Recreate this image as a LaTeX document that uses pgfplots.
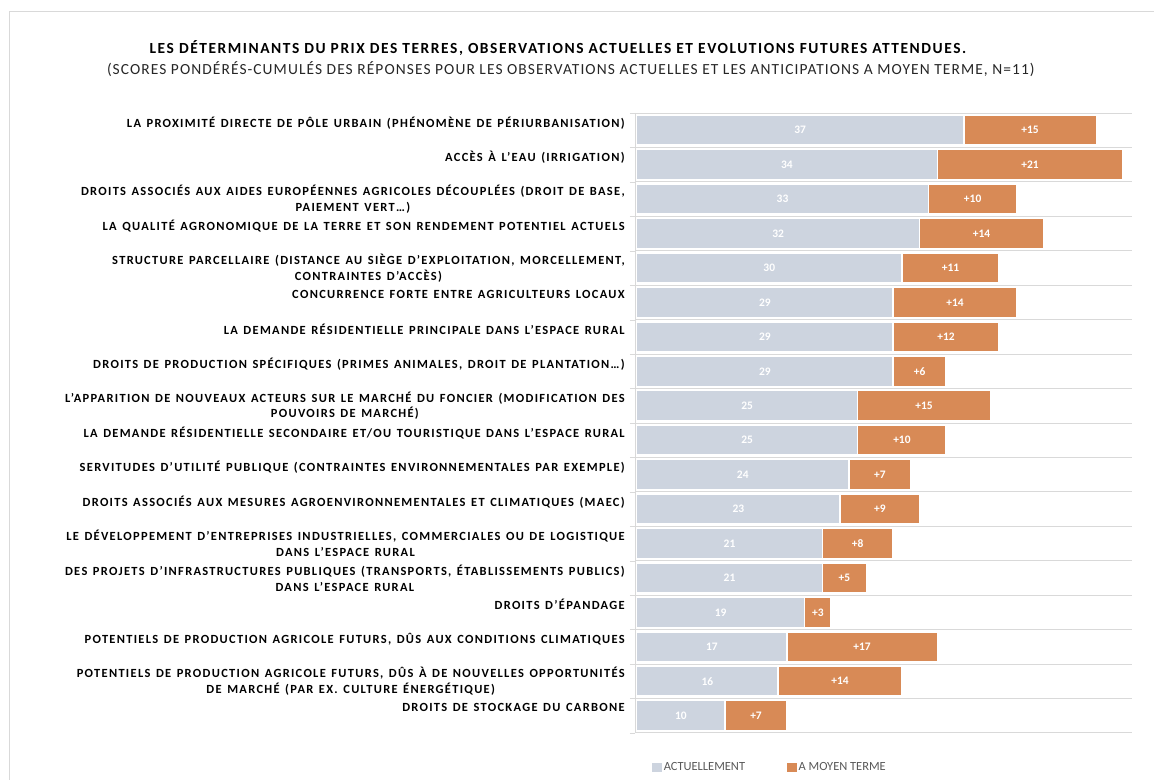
\documentclass[border=0pt]{standalone}
\usepackage{fontspec}
\setmainfont{Carlito}
\newfontfamily\lblfont[LetterSpace=10.5, WordSpace=1.35]{Carlito}
\newfontfamily\ttlfont[LetterSpace=10]{Carlito}
\newfontfamily\subfont[LetterSpace=7]{Carlito}
\usepackage{pgfplots}
\pgfplotsset{compat=1.18}
\usepackage{pgfplotstable}

\definecolor{actu}{HTML}{CDD4DF}
\definecolor{moyen}{HTML}{D88A56}
\definecolor{gridc}{HTML}{D9D9D9}
\definecolor{legtxt}{HTML}{595959}

% scores ponderes-cumules : actuellement / a moyen terme
\pgfplotstableread{
id now fut
0  37 15
1  34 21
2  33 10
3  32 14
4  30 11
5  29 14
6  29 12
7  29 6
8  25 15
9  25 10
10 24 7
11 23 9
12 21 8
13 21 5
14 19 3
15 17 17
16 16 14
17 10 7
}\scores

\begin{document}
\begin{tikzpicture}
\path (0bp,0bp) rectangle (1154bp,-780bp);
\draw[gridc] (9bp,-780bp) -- (9bp,-11bp) -- (1154bp,-11bp);
\node[font=\ttlfont\bfseries\fontsize{15.5}{18}\selectfont] at (558bp,-48bp)
  {LES DÉTERMINANTS DU PRIX DES TERRES, OBSERVATIONS ACTUELLES ET EVOLUTIONS FUTURES ATTENDUES.};
\node[font=\subfont\fontsize{15.5}{18}\selectfont, text=black!85] at (571bp,-69bp)
  {(SCORES PONDÉRÉS-CUMULÉS DES RÉPONSES POUR LES OBSERVATIONS ACTUELLES ET LES ANTICIPATIONS A MOYEN TERME, N=11)};
\begin{axis}[
    at={(635bp,-733bp)}, anchor=south west,
    scale only axis, width=497bp, height=620bp,
    xbar stacked, bar width=30bp,
    xmin=-0.2, xmax=56, ymin=-0.5, ymax=17.5,
    y dir=reverse,
    axis x line=none,
    axis y line=left,
    y axis line style={gridc, -},
    xtick=\empty,
    ytick={0,1,2,3,4,5,6,7,8,9,10,11,12,13,14,15,16,17},
    minor ytick={-0.5,0.5,...,17.5},
    yminorgrids=true,
    minor grid style={gridc, line width=0.8bp},
    major tick length=0pt,
    minor tick length=5bp,
    tick align=outside,
    ytick pos=left,
    minor tick style={gridc},
    yticklabel shift=10bp,
    yticklabel style={font=\lblfont\bfseries\fontsize{12.5}{16}\selectfont,
        align=center, inner sep=0pt, text=black},
    yticklabels={
      {LA PROXIMITÉ DIRECTE DE PÔLE URBAIN (PHÉNOMÈNE DE PÉRIURBANISATION)\\\mbox{}},
      {ACCÈS À L’EAU (IRRIGATION)\\\mbox{}},
      {DROITS ASSOCIÉS AUX AIDES EUROPÉENNES AGRICOLES DÉCOUPLÉES (DROIT DE BASE,\\PAIEMENT VERT\ldots)},
      {LA QUALITÉ AGRONOMIQUE DE LA TERRE ET SON RENDEMENT POTENTIEL ACTUELS\\\mbox{}},
      {STRUCTURE PARCELLAIRE (DISTANCE AU SIÈGE D’EXPLOITATION, MORCELLEMENT,\\CONTRAINTES D’ACCÈS)},
      {CONCURRENCE FORTE ENTRE AGRICULTEURS LOCAUX\\\mbox{}},
      {LA DEMANDE RÉSIDENTIELLE PRINCIPALE DANS L’ESPACE RURAL\\\mbox{}},
      {DROITS DE PRODUCTION SPÉCIFIQUES (PRIMES ANIMALES, DROIT DE PLANTATION\ldots)\\\mbox{}},
      {L’APPARITION DE NOUVEAUX ACTEURS SUR LE MARCHÉ DU FONCIER (MODIFICATION DES\\POUVOIRS DE MARCHÉ)},
      {LA DEMANDE RÉSIDENTIELLE SECONDAIRE ET/OU TOURISTIQUE DANS L’ESPACE RURAL\\\mbox{}},
      {SERVITUDES D’UTILITÉ PUBLIQUE (CONTRAINTES ENVIRONNEMENTALES PAR EXEMPLE)\\\mbox{}},
      {DROITS ASSOCIÉS AUX MESURES AGROENVIRONNEMENTALES ET CLIMATIQUES (MAEC)\\\mbox{}},
      {LE DÉVELOPPEMENT D’ENTREPRISES INDUSTRIELLES, COMMERCIALES OU DE LOGISTIQUE\\DANS L’ESPACE RURAL},
      {DES PROJETS D’INFRASTRUCTURES PUBLIQUES (TRANSPORTS, ÉTABLISSEMENTS PUBLICS)\\DANS L’ESPACE RURAL},
      {DROITS D’ÉPANDAGE\\\mbox{}},
      {POTENTIELS DE PRODUCTION AGRICOLE FUTURS, DÛS AUX CONDITIONS CLIMATIQUES\\\mbox{}},
      {POTENTIELS DE PRODUCTION AGRICOLE FUTURS, DÛS À DE NOUVELLES OPPORTUNITÉS\\DE MARCHÉ (PAR EX. CULTURE ÉNERGÉTIQUE)},
      {DROITS DE STOCKAGE DU CARBONE\\\mbox{}}
    },
    % stacked bars: pgfplots already puts the value in the middle of its segment
    every node near coord/.append style={anchor=center,
        font=\bfseries\fontsize{11.5}{12}\selectfont, text=white},
    legend style={at={(0.272,-0.056)}, anchor=center, draw=none, fill=none,
        legend columns=2, font=\fontsize{12.5}{14}\selectfont, text=legtxt,
        /tikz/every even column/.append style={column sep=40bp},
        legend cell align=left},
]
\addplot[fill=actu, draw=white, line width=1.5bp,
    visualization depends on={\thisrow{now} \as \segw},
    nodes near coords={\pgfmathprintnumber[assume math mode=true]{\segw}},
    legend image code/.code={\fill[actu] (0bp,-4bp) rectangle (8bp,4bp);}]
    table[x=now, y=id] {\scores};
\addlegendentry{ACTUELLEMENT}
\addplot[fill=moyen, draw=white, line width=1.5bp,
    visualization depends on={\thisrow{fut} \as \segw},
    nodes near coords={+\pgfmathprintnumber[assume math mode=true]{\segw}},
    legend image code/.code={\fill[moyen] (0bp,-4bp) rectangle (8bp,4bp);}]
    table[x=fut, y=id] {\scores};
\addlegendentry{A MOYEN TERME}
\end{axis}
\end{tikzpicture}
\end{document}
